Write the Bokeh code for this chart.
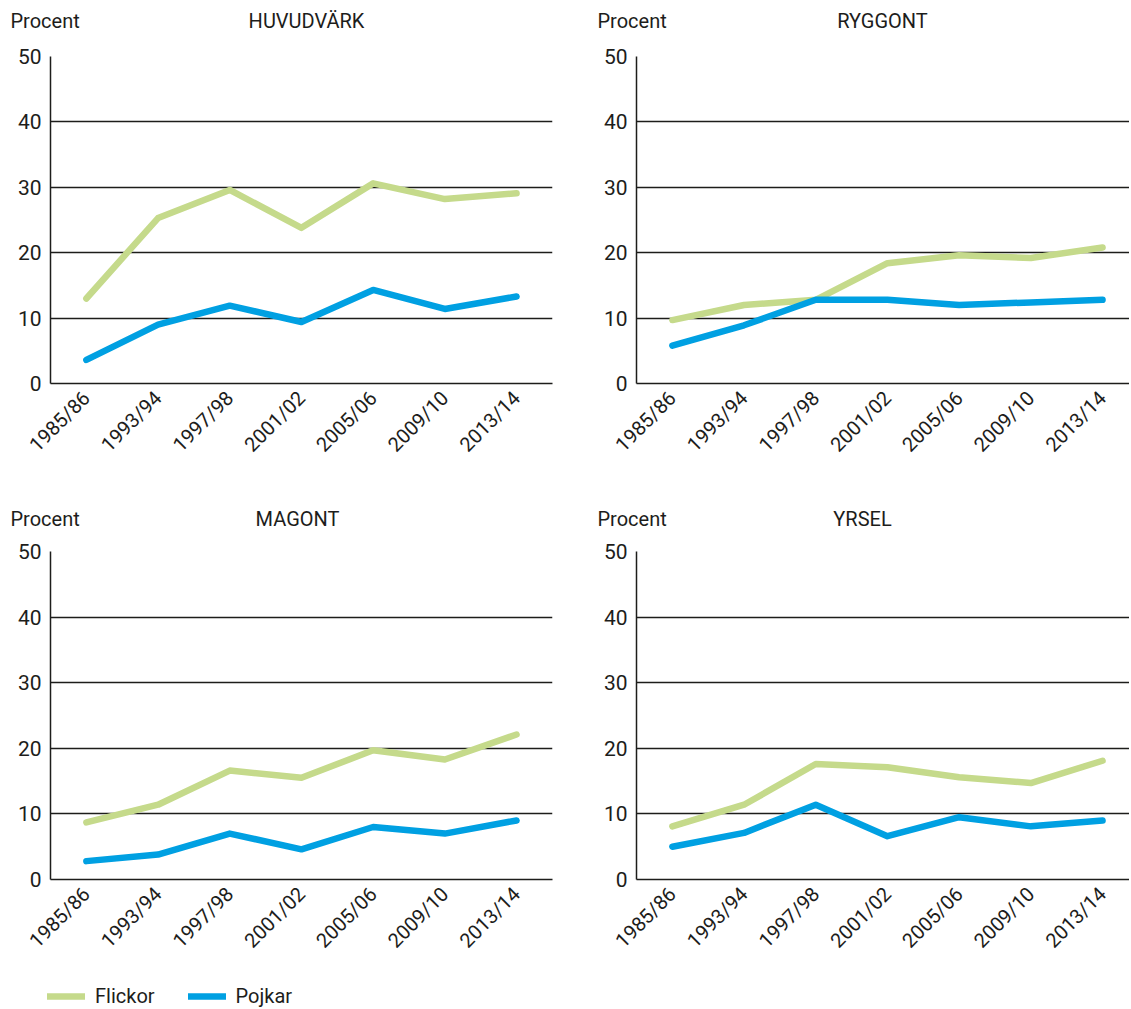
import math
from bokeh.plotting import figure
from bokeh.models import Range1d, FixedTicker, Label, Legend, LegendItem
from bokeh.layouts import column, row
from bokeh.embed import file_html
from bokeh.resources import INLINE

years = ["1985/86", "1993/94", "1997/98", "2001/02", "2005/06", "2009/10", "2013/14"]
titles = ["HUVUDVÄRK", "RYGGONT", "MAGONT", "YRSEL"]

huvudvark_flickor = [13.0, 25.3, 29.6, 23.8, 30.6, 28.2, 29.1]
huvudvark_pojkar = [3.6, 9.0, 11.9, 9.4, 14.3, 11.4, 13.3]
ryggont_flickor = [9.7, 12.0, 12.8, 18.4, 19.6, 19.2, 20.8]
ryggont_pojkar = [5.8, 8.9, 12.8, 12.8, 12.0, 12.4, 12.8]
magont_flickor = [8.7, 11.4, 16.6, 15.5, 19.7, 18.3, 22.1]
magont_pojkar = [2.8, 3.8, 7.0, 4.6, 8.0, 7.0, 9.0]
yrsel_flickor = [8.1, 11.4, 17.6, 17.1, 15.6, 14.7, 18.1]
yrsel_pojkar = [5.0, 7.1, 11.4, 6.6, 9.5, 8.1, 9.0]

y_ticks = [0, 10, 20, 30, 40, 50]
series_names = ["Flickor", "Pojkar"]

GREEN = "#c5da8b"
BLUE = "#00a0e2"
DARK = "#1d1d1b"
FONT = "Roboto"
STEP = 71.7  # px per category

idx = list(range(len(years)))


def make_panel(title, flickor, pojkar, width, height, left, top, right, bottom,
               procent_dx, title_x, label_y):
    frame_w = width - left - right
    p = figure(width=width, height=height, output_backend="svg", toolbar_location=None,
               min_border_left=left, min_border_right=right,
               min_border_top=top, min_border_bottom=bottom,
               x_range=Range1d(-0.5, -0.5 + frame_w / STEP), y_range=Range1d(0, 50))
    p.outline_line_color = None
    p.background_fill_color = "white"
    p.border_fill_color = "white"
    p.xgrid.visible = False
    p.ygrid.ticker = FixedTicker(ticks=y_ticks)
    p.ygrid.grid_line_color = DARK
    p.ygrid.grid_line_width = 1.5
    p.yaxis.ticker = FixedTicker(ticks=y_ticks)
    p.xaxis.ticker = FixedTicker(ticks=idx)
    p.xaxis.major_label_overrides = {i: y for i, y in enumerate(years)}
    p.xaxis.major_label_orientation = math.pi / 4
    for ax in (p.xaxis, p.yaxis):
        ax.axis_line_color = DARK
        ax.axis_line_width = 1.5
        ax.major_tick_line_color = None
        ax.minor_tick_line_color = None
        ax.major_tick_in = 0
        ax.major_tick_out = 0
        ax.major_label_text_font = FONT
        ax.major_label_text_color = DARK
    p.yaxis.major_label_text_font_size = "21px"
    p.yaxis.major_label_standoff = 9
    p.xaxis.major_label_text_font_size = "20px"
    p.xaxis.major_label_standoff = 11

    p.line(idx, flickor, line_color=GREEN, line_width=6.5, line_cap="round", line_join="round")
    p.line(idx, pojkar, line_color=BLUE, line_width=6.5, line_cap="round", line_join="round")

    p.add_layout(Label(x=-0.5 + procent_dx / STEP, y=label_y, text="Procent",
                       text_font=FONT, text_font_size="20px", text_color=DARK,
                       text_align="left", text_baseline="middle"), "above")
    p.add_layout(Label(x=-0.5 + title_x / STEP, y=label_y, text=title,
                       text_font=FONT, text_font_size="20px", text_color=DARK,
                       text_align="center", text_baseline="middle"), "above")
    return p


p1 = make_panel(titles[0], huvudvark_flickor, huvudvark_pojkar, 580, 500, 50, 56, 28, 117,
                -40, 256, 55.5)
p2 = make_panel(titles[1], ryggont_flickor, ryggont_pojkar, 549, 500, 56, 56, 0, 117,
                -39, 246, 55.5)
p3 = make_panel(titles[2], magont_flickor, magont_pojkar, 580, 475, 50, 51, 28, 96,
                -40, 247, 55.0)
p4 = make_panel(titles[3], yrsel_flickor, yrsel_pojkar, 549, 475, 56, 51, 0, 96,
                -39, 226, 55.0)

# Legend strip: hidden copies of one panel's series supply the legend glyphs
leg = figure(width=580, height=33, output_backend="svg", toolbar_location=None,
             min_border=0, x_range=Range1d(-0.5, 6.5), y_range=Range1d(0, 50))
leg.axis.visible = False
leg.grid.visible = False
leg.outline_line_color = None
r_f = leg.line(idx, magont_flickor, line_color=GREEN, line_width=6.5, line_cap="round", visible=False)
r_p = leg.line(idx, magont_pojkar, line_color=BLUE, line_width=6.5, line_cap="round", visible=False)
legend = Legend(items=[LegendItem(label=series_names[0], renderers=[r_f]),
                       LegendItem(label=series_names[1], renderers=[r_p])],
                orientation="horizontal", location=(47, 0),
                glyph_width=38, glyph_height=20, label_standoff=10, spacing=33,
                padding=0, margin=0, border_line_color=None, background_fill_alpha=0,
                label_text_font=FONT, label_text_font_size="20px", label_text_color=DARK,
                label_height=20)
leg.add_layout(legend)

layout = column(row(p1, p2), row(p3, p4), leg)

with open("out.html", "w") as f:
    f.write(file_html(layout, INLINE))
